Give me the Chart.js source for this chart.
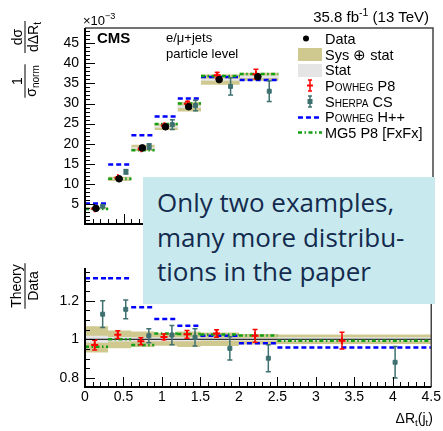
<!DOCTYPE html>
<html>
<head>
<meta charset="utf-8">
<script src="https://cdn.jsdelivr.net/npm/chart.js@4.4.0/dist/chart.umd.min.js"></script>
<style>
  body { margin: 0; width: 443px; height: 431px; position: relative; overflow: hidden; background: #fff;
         font-family: "Liberation Sans", Arial, sans-serif; color: #000; }
  canvas { position: absolute; left: 0; }
  #topChart { top: 0; }
  #ratioChart { top: 250px; }
  .lbl { position: absolute; white-space: nowrap; line-height: 1; }
  sub { font-size: 70%; vertical-align: -3px; line-height: 0; }
  sup { font-size: 70%; vertical-align: 6px; line-height: 0; }
  #legend { position: absolute; left: 297px; top: 31px; font-size: 14.5px; }
  #legend .row { display: flex; align-items: center; height: 15.7px; }
  #legend svg { width: 26px; height: 15px; margin-right: 2px; }
  .sc { font-variant: small-caps; }
  #note { position: absolute; left: 143px; top: 177px; width: 292px; height: 127px; box-sizing: border-box;
          padding: 8.3px 0 0 14px; background: rgb(200, 234, 238); color: #132a4e;
          font-family: "Open Sans", Lato, sans-serif; font-size: 26px; line-height: 34.5px; }
</style>
</head>
<body>
<canvas id="topChart" width="443" height="282"></canvas>
<canvas id="ratioChart" width="443" height="181"></canvas>

<div class="lbl" style="left:83px; top:14px; font-size:13px;">×10<sup>−3</sup></div>
<div class="lbl" style="right:14px; top:9px; font-size:15px;">35.8 fb<sup>-1</sup> (13 TeV)</div>
<div class="lbl" style="left:97px; top:30px; font-size:15px; font-weight:bold;">CMS</div>
<div class="lbl" style="left:166px; top:31px; font-size:13px;">e/μ+jets</div>
<div class="lbl" style="left:166px; top:47px; font-size:13px;">particle level</div>
<div class="lbl" style="right:10px; top:411px; font-size:14px;">ΔR<sub>t</sub>(j<sub>t</sub>)</div>

<div id="legend">
  <div class="row"><svg><circle cx="9" cy="7.5" r="3" fill="#000"/></svg><span>Data</span></div>
  <div class="row"><svg><rect x="1" y="1" width="24" height="13" fill="rgb(207,201,143)"/></svg><span>Sys ⊕ stat</span></div>
  <div class="row"><svg><rect x="1" y="1" width="24" height="13" fill="rgb(229,229,229)"/></svg><span>Stat</span></div>
  <div class="row"><svg><g stroke="#f00" stroke-width="1.5"><line x1="13" y1="2" x2="13" y2="13"/><line x1="11" y1="2" x2="15" y2="2"/><line x1="11" y1="13" x2="15" y2="13"/><line x1="10" y1="7.5" x2="16" y2="7.5" stroke-width="2"/></g></svg><span class="sc">Powheg P8</span></div>
  <div class="row"><svg><g stroke="rgb(62,112,112)" stroke-width="1.5"><line x1="13" y1="2" x2="13" y2="13"/><line x1="11" y1="2" x2="15" y2="2"/><line x1="11" y1="13" x2="15" y2="13"/></g><rect x="10.5" y="5" width="5" height="5" fill="rgb(62,112,112)"/></svg><span class="sc">Sherpa CS</span></div>
  <div class="row"><svg><line x1="1" y1="7.5" x2="25" y2="7.5" stroke="#00f" stroke-width="2.5" stroke-dasharray="5 3"/></svg><span class="sc">Powheg H++</span></div>
  <div class="row"><svg><line x1="1" y1="7.5" x2="25" y2="7.5" stroke="rgb(20,160,20)" stroke-width="2.5" stroke-dasharray="4 2.5 1.5 2.5"/></svg><span>MG5 P8 [FxFx]</span></div>
</div>

<div id="note">Only two examples,<br>many more distribu-<br>tions in the paper</div>

<script>
// Bin edges of ΔR_t(j_t)
const binEdges = [0, 0.3, 0.6, 0.9, 1.2, 1.5, 2.0, 2.5, 4.5];

// Measured normalised cross section (x10^-3); last bin sits behind the note box, estimated
const dataValues = [3.9, 11.25, 18.95, 24.2, 29.2, 35.95, 36.65, 9.5];
// Relative uncertainties
const sysStatUnc = [0.068, 0.046, 0.04, 0.033, 0.04, 0.035, 0.027, 0.025];
const statUnc = [0.018, 0.012, 0.01, 0.01, 0.01, 0.008, 0.008, 0.01];

// Theory / Data
const powhegP8Ratio = [0.97, 1.024, 0.99, 1.012, 1.026, 1.03, 1.018, 0.993];
const powhegP8Err = [0.025, 0.02, 0.018, 0.015, 0.02, 0.02, 0.033, 0.043];
const sherpaRatio = [1.13, 1.155, 1.018, 1.022, 1.01, 0.953, 0.902, 0.881];
const sherpaErr = [0.069, 0.049, 0.036, 0.05, 0.045, 0.06, 0.07, 0.082];
const powhegHppRatio = [1.316, 1.316, 1.166, 1.105, 1.07, 1.018, 0.979, 0.957];
const mg5Ratio = [0.962, 1.0, 0.97, 1.03, 1.028, 1.025, 1.019, 0.993];

// Axis ticks
const yTicksTop = [5, 10, 15, 20, 25, 30, 35, 40, 45];
const yTicksRatio = [0.8, 1, 1.2];
const xTicks = [0, 0.5, 1, 1.5, 2, 2.5, 3, 3.5, 4, 4.5];

const KHAKI = 'rgb(207,201,143)';
const STATGREY = 'rgb(229,229,229)';
const RED = '#ff0000';
const TEAL = 'rgb(62,112,112)';
const BLUE = '#0000ff';
const GREEN = 'rgb(20,160,20)';
const FONT = '"Liberation Sans", Arial, sans-serif';

// marker position inside a bin (fraction of the width)
const dataFrac = 0.47, p8Frac = 0.42, sherpaFrac = 0.765;

function binPos(frac) {
  return dataValues.map((v, i) => binEdges[i] + frac * (binEdges[i + 1] - binEdges[i]));
}

// step outline (value holds over the bin), used for the filled bands
function stepPoints(vals) {
  const pts = vals.map((v, i) => ({ x: binEdges[i], y: v }));
  pts.push({ x: binEdges[binEdges.length - 1], y: vals[vals.length - 1] });
  return pts;
}

// one horizontal segment per bin, no vertical connections
function segPoints(vals) {
  const pts = [];
  vals.forEach((v, i) => {
    pts.push({ x: binEdges[i], y: v }, { x: binEdges[i + 1], y: v }, { x: binEdges[i + 1], y: null });
  });
  return pts;
}

// vertical error bars, gaps between them
function errPoints(xs, vals, errs) {
  const pts = [];
  vals.forEach((v, i) => {
    pts.push({ x: xs[i], y: v - errs[i] }, { x: xs[i], y: v + errs[i] }, { x: xs[i], y: null });
  });
  return pts;
}

function markerPoints(xs, vals) {
  return vals.map((v, i) => ({ x: xs[i], y: v }));
}

function bandDatasets(center, rel, color, order) {
  const lo = center.map((c, i) => c * (1 - rel[i]));
  const hi = center.map((c, i) => c * (1 + rel[i]));
  return [
    { data: stepPoints(lo), stepped: 'before', borderColor: 'transparent', pointRadius: 0, fill: false, order: order },
    { data: stepPoints(hi), stepped: 'before', borderColor: 'transparent', pointRadius: 0, fill: '-1', backgroundColor: color, order: order }
  ];
}

function modelDatasets(scaleVals) {
  // scaleVals: what 1.0 means in this panel (data for top, ones for ratio)
  const m = (r) => r.map((v, i) => v * scaleVals[i]);
  const p8 = m(powhegP8Ratio), sh = m(sherpaRatio);
  const p8Err = m(powhegP8Err), shErr = m(sherpaErr);
  const xP8 = binPos(p8Frac), xSh = binPos(sherpaFrac);
  return [
    { data: segPoints(m(powhegHppRatio)), borderColor: BLUE, borderWidth: 2.5, borderDash: [5, 3], pointRadius: 0, order: 6 },
    { data: segPoints(m(mg5Ratio)), borderColor: GREEN, borderWidth: 2.5, borderDash: [4, 2.5, 1.5, 2.5], pointRadius: 0, order: 5 },
    { data: errPoints(xSh, sh, shErr), borderColor: TEAL, borderWidth: 1.5, pointStyle: 'line', pointRadius: 2.5,
      pointBorderColor: TEAL, pointBorderWidth: 1.5, order: 4 },
    { data: errPoints(xP8, p8, p8Err), borderColor: RED, borderWidth: 1.5, pointStyle: 'line', pointRadius: 2.5,
      pointBorderColor: RED, pointBorderWidth: 1.5, order: 3 },
    { data: markerPoints(xSh, sh), showLine: false, pointStyle: 'rect', pointRadius: 2.8, pointBackgroundColor: TEAL,
      pointBorderColor: TEAL, pointBorderWidth: 1, order: 2 },
    { data: markerPoints(xP8, p8), showLine: false, pointStyle: 'cross', pointRadius: 3.5, pointBorderColor: RED,
      pointBorderWidth: 2, order: 2 }
  ];
}

// ROOT-like frame with inward ticks
const rootFrame = {
  id: 'rootFrame',
  afterDatasetsDraw(chart, args, opts) {
    const { ctx, chartArea: a } = chart;
    const xs = chart.scales.x, ys = chart.scales.y;
    ctx.save();
    ctx.strokeStyle = '#000';
    ctx.lineWidth = 1;
    const ticks = (scale, step, len, horiz) => {
      const n0 = Math.ceil(scale.min / step - 1e-6), n1 = Math.floor(scale.max / step + 1e-6);
      for (let n = n0; n <= n1; n++) {
        const p = Math.round(scale.getPixelForValue(n * step)) + 0.5;
        ctx.beginPath();
        if (horiz) { ctx.moveTo(p, a.bottom); ctx.lineTo(p, a.bottom - len); }
        else { ctx.moveTo(a.left, p); ctx.lineTo(a.left + len, p); }
        ctx.stroke();
      }
    };
    ticks(ys, opts.yMinor, 5, false);
    ticks(ys, opts.yMajor, 10, false);
    ticks(xs, 0.1, 5, true);
    ticks(xs, 0.5, 10, true);

    ctx.strokeStyle = '#444';
    ctx.lineWidth = 1.5;
    ctx.beginPath();
    if (opts.top) { ctx.moveTo(a.left, a.top); ctx.lineTo(a.right, a.top); }
    else { ctx.moveTo(a.right, a.top); }
    ctx.lineTo(a.right, a.bottom);
    ctx.stroke();

    ctx.strokeStyle = '#000';
    ctx.lineWidth = 2;
    ctx.beginPath();
    ctx.moveTo(a.left, a.top);
    ctx.lineTo(a.left, a.bottom);
    ctx.lineTo(a.right, a.bottom);
    ctx.stroke();
    ctx.restore();
  }
};

// rotated axis titles written as fractions, runs = [[text, isSubscript], ...]
function runsWidth(ctx, runs) {
  let w = 0;
  runs.forEach(([t, sub]) => {
    ctx.font = (sub ? 10 : 14) + 'px ' + FONT;
    w += ctx.measureText(t).width;
  });
  return w;
}

function drawRuns(ctx, runs, x, y) {
  runs.forEach(([t, sub]) => {
    ctx.font = (sub ? 10 : 14) + 'px ' + FONT;
    ctx.fillText(t, x, y + (sub ? 3 : 0));
    x += ctx.measureText(t).width;
  });
}

function fracTitles(items) {
  return {
    id: 'fracTitles',
    afterDraw(chart) {
      const ctx = chart.ctx;
      items.forEach(f => {
        ctx.save();
        ctx.translate(f.x, f.y);
        ctx.rotate(-Math.PI / 2);
        ctx.fillStyle = '#000';
        ctx.textBaseline = 'alphabetic';
        const wn = runsWidth(ctx, f.num), wd = runsWidth(ctx, f.den);
        const w = Math.max(wn, wd) + 2;
        drawRuns(ctx, f.num, -wn / 2, f.numBase);
        drawRuns(ctx, f.den, -wd / 2, f.denBase);
        ctx.fillRect(-w / 2, -0.5, w, 1);
        ctx.restore();
      });
    }
  };
}

const tickFont = { family: FONT, size: 14 };

function baseOptions(yMin, yMax, yTicks, padding, showX) {
  return {
    responsive: false,
    animation: false,
    layout: { padding: padding },
    plugins: { legend: { display: false }, tooltip: { enabled: false } },
    elements: { line: { tension: 0, fill: false }, point: { radius: 0 } },
    scales: {
      x: {
        type: 'linear', min: 0, max: 4.5, display: showX,
        grid: { display: false, drawTicks: false },
        border: { display: false },
        afterBuildTicks: (s) => { s.ticks = xTicks.map(v => ({ value: v })); },
        afterFit: (s) => { s.height = 44; },
        ticks: { color: '#000', font: tickFont, padding: 2, autoSkip: false, maxRotation: 0,
                 callback: (v) => String(v) }
      },
      y: {
        type: 'linear', min: yMin, max: yMax,
        grid: { display: false, drawTicks: false },
        border: { display: false },
        afterBuildTicks: (s) => { s.ticks = yTicks.map(v => ({ value: v })); },
        afterFit: (s) => { s.width = 85; },
        ticks: { color: '#000', font: tickFont, padding: 6, autoSkip: false,
                 callback: (v) => String(v) }
      }
    }
  };
}

function renderTop() {
  const ctx = document.getElementById('topChart').getContext('2d');
  const opts = baseOptions(0, 48.8, yTicksTop, { left: 0, right: 10, top: 28, bottom: 14 }, false);
  opts.plugins.rootFrame = { yMajor: 5, yMinor: 1, top: true };
  new Chart(ctx, {
    type: 'line',
    data: {
      datasets: [
        ...bandDatasets(dataValues, sysStatUnc, KHAKI, 10),
        ...bandDatasets(dataValues, statUnc, STATGREY, 9),
        ...modelDatasets(dataValues),
        { data: markerPoints(binPos(dataFrac), dataValues), showLine: false, pointStyle: 'circle', pointRadius: 3.3,
          pointBackgroundColor: '#000', pointBorderColor: '#000', order: 1 }
      ]
    },
    options: opts,
    plugins: [rootFrame, fracTitles([
      { x: 25, y: 81, num: [['1']], den: [['σ'], ['norm', true]], numBase: -3, denBase: 11 },
      { x: 25, y: 37, num: [['dσ']], den: [['dΔR'], ['t', true]], numBase: -3, denBase: 13 }
    ])]
  });
}

function renderRatio() {
  const ctx = document.getElementById('ratioChart').getContext('2d');
  const ones = dataValues.map(() => 1);
  const opts = baseOptions(0.753, 1.369, yTicksRatio, { left: 0, right: 10, top: 18, bottom: 0 }, true);
  opts.plugins.rootFrame = { yMajor: 0.2, yMinor: 0.05, top: false };
  new Chart(ctx, {
    type: 'line',
    data: {
      datasets: [
        ...bandDatasets(ones, sysStatUnc, KHAKI, 10),
        ...bandDatasets(ones, statUnc, STATGREY, 9),
        { data: [{ x: 0, y: 1 }, { x: 4.5, y: 1 }], borderColor: '#000', borderWidth: 1, pointRadius: 0, order: 8 },
        ...modelDatasets(ones)
      ]
    },
    options: opts,
    plugins: [rootFrame, fracTitles([
      { x: 25, y: 36, num: [['Theory']], den: [['Data']], numBase: -4, denBase: 13 }
    ])]
  });
}

window.onload = () => {
  renderTop();
  renderRatio();
};
</script>
</body>
</html>
